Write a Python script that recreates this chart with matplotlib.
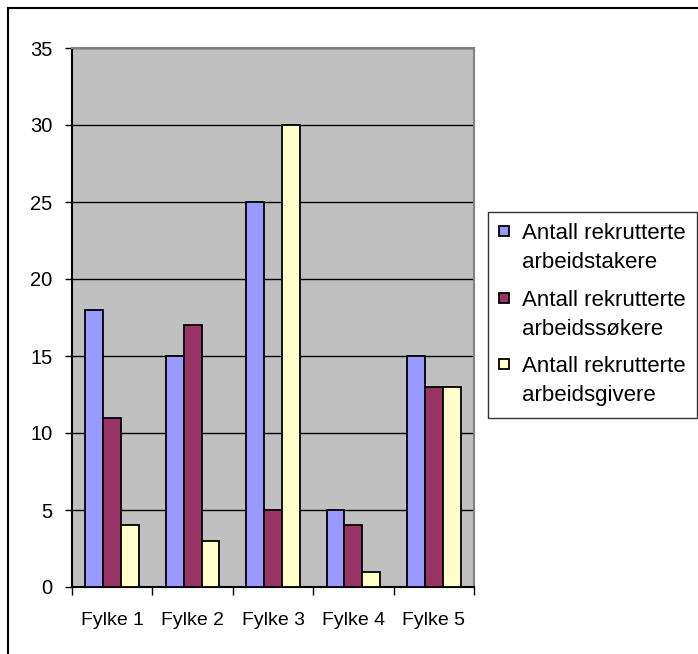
import matplotlib.pyplot as plt
import matplotlib.patches as patches
from matplotlib.container import BarContainer
from matplotlib.legend_handler import HandlerPatch
import numpy as np

plt.rcParams['font.family'] = ['Liberation Sans', 'DejaVu Sans']

# rekrutteringstall per fylke
fylker = ["Fylke 1", "Fylke 2", "Fylke 3", "Fylke 4", "Fylke 5"]
arbeidstakere = [18, 15, 25, 5, 15]
arbeidssokere = [11, 17, 5, 4, 13]
arbeidsgivere = [4, 3, 30, 1, 13]
serier = ["Antall rekrutterte\narbeidstakere",
          "Antall rekrutterte\narbeidssøkere",
          "Antall rekrutterte\narbeidsgivere"]
farger = ["#9999FF", "#993366", "#FFFFCC"]


def boks_forste_linje(legend, orig_handle, xdescent, ydescent, width, height, fontsize):
    # kvadratisk fargeboks ved første tekstlinje
    return patches.Rectangle((-xdescent, -ydescent + 0.82 * fontsize), width, width)


def fra_forste_bar(legend_handle, orig_handle):
    legend_handle.update_from(orig_handle.patches[0])


fig = plt.figure(figsize=(6.98, 6.54), dpi=100)
ax = fig.add_axes([72 / 698, 1 - 587 / 654, 402 / 698, 539 / 654])
ax.set_facecolor("#C0C0C0")

x = np.arange(len(fylker))
w = 1 / 4.5
for i, (verdier, navn, farge) in enumerate(zip([arbeidstakere, arbeidssokere, arbeidsgivere], serier, farger)):
    ax.bar(x + (i - 1) * w, verdier, width=w, color=farge, edgecolor="black",
           linewidth=1.3, label=navn, zorder=3)

ax.set_xlim(-0.5, 4.5)
ax.set_ylim(0, 35)
ax.set_yticks(range(0, 36, 5))
ax.yaxis.grid(True, color="black", linewidth=1, zorder=1)
ax.set_axisbelow(True)

# kategoriene plasseres mellom tick-strekene
ax.set_xticks(np.arange(-0.5, 5, 1))
ax.set_xticklabels([])
ax.set_xticks(x, minor=True)
ax.set_xticklabels(fylker, minor=True, fontsize=14)
ax.tick_params(axis="x", which="minor", length=0, pad=18)
ax.tick_params(axis="x", which="major", length=6, width=1, direction="out")
ax.tick_params(axis="y", length=5, width=1, direction="out", pad=9, labelsize=14.5)

ax.spines["left"].set_color("black")
ax.spines["bottom"].set_color("black")
ax.spines["top"].set_color("#808080")
ax.spines["right"].set_color("#808080")
for s in ax.spines.values():
    s.set_linewidth(1.5)

leg = fig.legend(loc="upper left", bbox_to_anchor=(488 / 698, 1 - 212 / 654),
                 borderaxespad=0, fontsize=16, frameon=True, fancybox=False,
                 handlelength=0.45, handleheight=0.45, handletextpad=0.6,
                 labelspacing=0.75, borderpad=0.5,
                 handler_map={BarContainer: HandlerPatch(patch_func=boks_forste_linje,
                                                         update_func=fra_forste_bar)})
for t in leg.get_texts():
    t.set_linespacing(1.5)
leg.get_frame().set_edgecolor("black")
leg.get_frame().set_linewidth(1)

# ramme rundt hele diagrammet
fig.patches.append(patches.Rectangle((8 / 698, -0.2), 1.2, 1.2 - 8 / 654,
                                     transform=fig.transFigure, fill=False,
                                     edgecolor="black", linewidth=1.5))

fig.savefig("out.png", dpi=100)
